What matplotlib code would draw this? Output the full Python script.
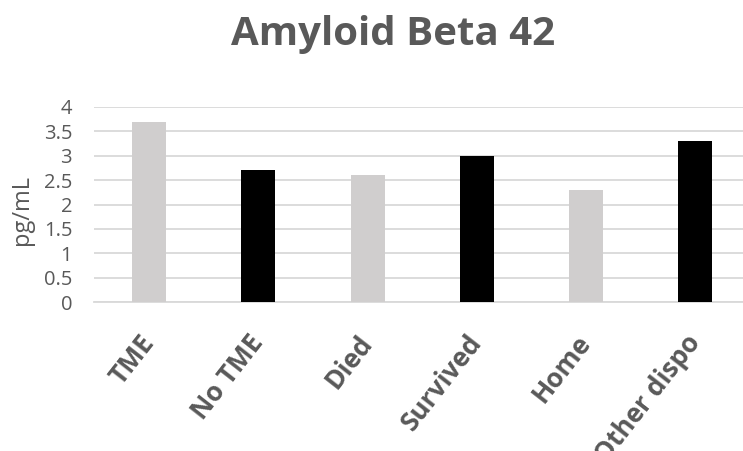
import matplotlib.pyplot as plt

categories = ['TME', 'No TME', 'Died', 'Survived', 'Home', 'Other dispo']
values = [3.7, 2.7, 2.6, 3.0, 2.3, 3.3]
bar_colors = ['#D0CECE', '#000000', '#D0CECE', '#000000', '#D0CECE', '#000000']
yticks = [0, 0.5, 1, 1.5, 2, 2.5, 3, 3.5, 4]
ytick_labels = ['0', '0.5', '1', '1.5', '2', '2.5', '3', '3.5', '4']

text_color = '#595959'
grid_color = '#D9D9D9'

W, H = 743, 451
fig = plt.figure(figsize=(W / 100, H / 100), dpi=100)
# plot area in pixels: left 94.4, bottom 302, top 107; right edge runs past the image
ax = fig.add_axes([94.4 / W, 1 - 302 / H, 1 - 94.4 / W, 195 / H])

x = list(range(len(categories)))
ax.bar(x, values, width=0.31, color=bar_colors, zorder=3)

ax.set_ylim(0, 4)
ax.set_xlim(-0.5, 5.5 - 7 / 109.3)
ax.set_yticks(yticks)
ax.set_yticklabels(ytick_labels, fontsize=14.5, color=text_color, family='Open Sans')
ax.yaxis.grid(True, color=grid_color, linewidth=1.3, zorder=0)
ax.tick_params(axis='both', length=0)
ax.tick_params(axis='y', pad=16)

ax.set_xticks(x)
ax.set_xticklabels(categories, rotation=52, ha='right', va='center', rotation_mode='anchor',
                   fontsize=19, fontweight='bold', color=text_color, family='Open Sans')
ax.tick_params(axis='x', pad=26)

for side in ['left', 'right', 'top']:
    ax.spines[side].set_visible(False)
ax.spines['bottom'].set_color(grid_color)
ax.spines['bottom'].set_linewidth(1.3)

ax.set_ylabel('pg/mL', fontsize=17, color=text_color, family='Open Sans', va='center')
ax.yaxis.set_label_coords((22 - 94.4) / (W - 94.4), 0.47)

fig.text(393 / W, 1 - 45 / H, 'Amyloid Beta 42', ha='center', va='baseline',
         fontsize=29, fontweight='bold', color=text_color, family='Open Sans')

fig.savefig('out.png', dpi=100)
